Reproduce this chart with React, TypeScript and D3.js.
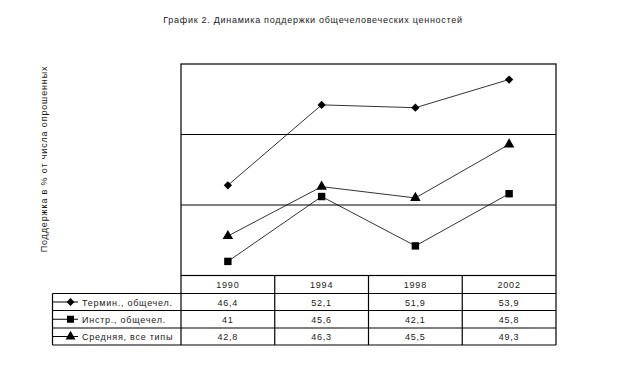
import React from "react";
import * as d3 from "d3";

const years = ["1990", "1994", "1998", "2002"];
const seriesNames = ["Термин., общечел.", "Инстр., общечел.", "Средняя, все типы"];
const termValues = [46.4, 52.1, 51.9, 53.9];
const instrValues = [41, 45.6, 42.1, 45.8];
const avgValues = [42.8, 46.3, 45.5, 49.3];
const yTicks = [40, 45, 50, 55];
const title = "График 2. Динамика поддержки общечеловеческих ценностей";
const yLabel = "Поддержка в % от числа опрошенных";

const seriesValues = [termValues, instrValues, avgValues];
const markerTypes = [d3.symbolSquare, d3.symbolSquare, d3.symbolTriangle];
const markerSizes = [34, 55, 48];
const markerRot = [45, 0, 0];

const fmt = (v: number) => String(v).replace(".", ",");

export default function App() {
  const W = 623, H = 366;
  const left = 181, right = 556, top = 64, bottom = 275.5;
  const tableLeft = 52.5;
  const rowH = [18, 17, 17.5, 17];
  const x = d3.scaleBand<string>().domain(years).range([left, right]);
  const y = d3.scaleLinear().domain([40, 55]).range([bottom, top]);
  const line = d3.line<number>().x((_, i) => (x(years[i]) as number) + x.bandwidth() / 2).y(d => y(d));
  const font = "'Liberation Sans', Arial, sans-serif";
  const rowTops: number[] = [];
  let acc = bottom;
  rowH.forEach(h => { rowTops.push(acc); acc += h; });
  const tableBottom = acc;
  const ls = 0.75;
  const txtFill = "#1a1a1a";

  return (
    <svg width={W} height={H} style={{ position: "absolute", left: 0, top: 0, background: "#fff" }} fontFamily={font}>
      <rect x={0} y={0} width={W} height={H} fill="#fff" />
      <text x={313} y={23} textAnchor="middle" fontSize={9} letterSpacing={0.72} fill={txtFill}>{title}</text>
      <text transform={`translate(47,159) rotate(-90)`} textAnchor="middle" fontSize={9} letterSpacing={0.85} fill={txtFill}>{yLabel}</text>
      {yTicks.slice(1, -1).map(t => (
        <line key={t} x1={left} x2={right} y1={y(t)} y2={y(t)} stroke="#000" strokeWidth={1} />
      ))}
      <rect x={left} y={top} width={right - left} height={bottom - top} fill="none" stroke="#000" strokeWidth={1.2} />
      {seriesValues.map((vals, s) => (
        <g key={s}>
          <path d={line(vals) || ""} fill="none" stroke="#000" strokeWidth={0.8} />
          {vals.map((v, i) => (
            <path key={i} d={d3.symbol(markerTypes[s], markerSizes[s])() || ""}
              transform={`translate(${(x(years[i]) as number) + x.bandwidth() / 2},${y(v)}) rotate(${markerRot[s]})`} fill="#000" />
          ))}
        </g>
      ))}
      <g stroke="#000" strokeWidth={1.2}>
        {years.map((yr) => (
          <line key={yr} x1={(x(yr) as number)} x2={(x(yr) as number)} y1={bottom} y2={tableBottom} />
        ))}
        <line x1={right} x2={right} y1={bottom} y2={tableBottom} />
        <line x1={tableLeft} x2={tableLeft} y1={rowTops[1]} y2={tableBottom} />
        {rowTops.slice(1).map((rt, i) => (
          <line key={i} x1={tableLeft} x2={right} y1={rt} y2={rt} />
        ))}
        <line x1={tableLeft} x2={right} y1={tableBottom} y2={tableBottom} />
      </g>
      {years.map(yr => (
        <text key={yr} x={(x(yr) as number) + x.bandwidth() / 2} y={rowTops[0] + rowH[0] / 2 + 3.5}
          textAnchor="middle" fontSize={9} letterSpacing={ls} fill={txtFill}>{yr}</text>
      ))}
      {seriesValues.map((vals, s) => {
        const rt = rowTops[s + 1];
        const cy = rt + rowH[s + 1] / 2;
        return (
          <g key={s}>
            <line x1={tableLeft} x2={78} y1={cy} y2={cy} stroke="#000" strokeWidth={1} />
            <path d={d3.symbol(markerTypes[s], markerSizes[s] * 0.9)() || ""} transform={`translate(70.5,${cy}) rotate(${markerRot[s]})`} fill="#000" />
            <text x={82} y={cy + 3.5} fontSize={9} letterSpacing={ls} fill={txtFill}>{seriesNames[s]}</text>
            {vals.map((v, i) => (
              <text key={i} x={(x(years[i]) as number) + x.bandwidth() / 2} y={cy + 3.5}
                textAnchor="middle" fontSize={9} letterSpacing={ls} fill={txtFill}>{fmt(v)}</text>
            ))}
          </g>
        );
      })}
    </svg>
  );
}
